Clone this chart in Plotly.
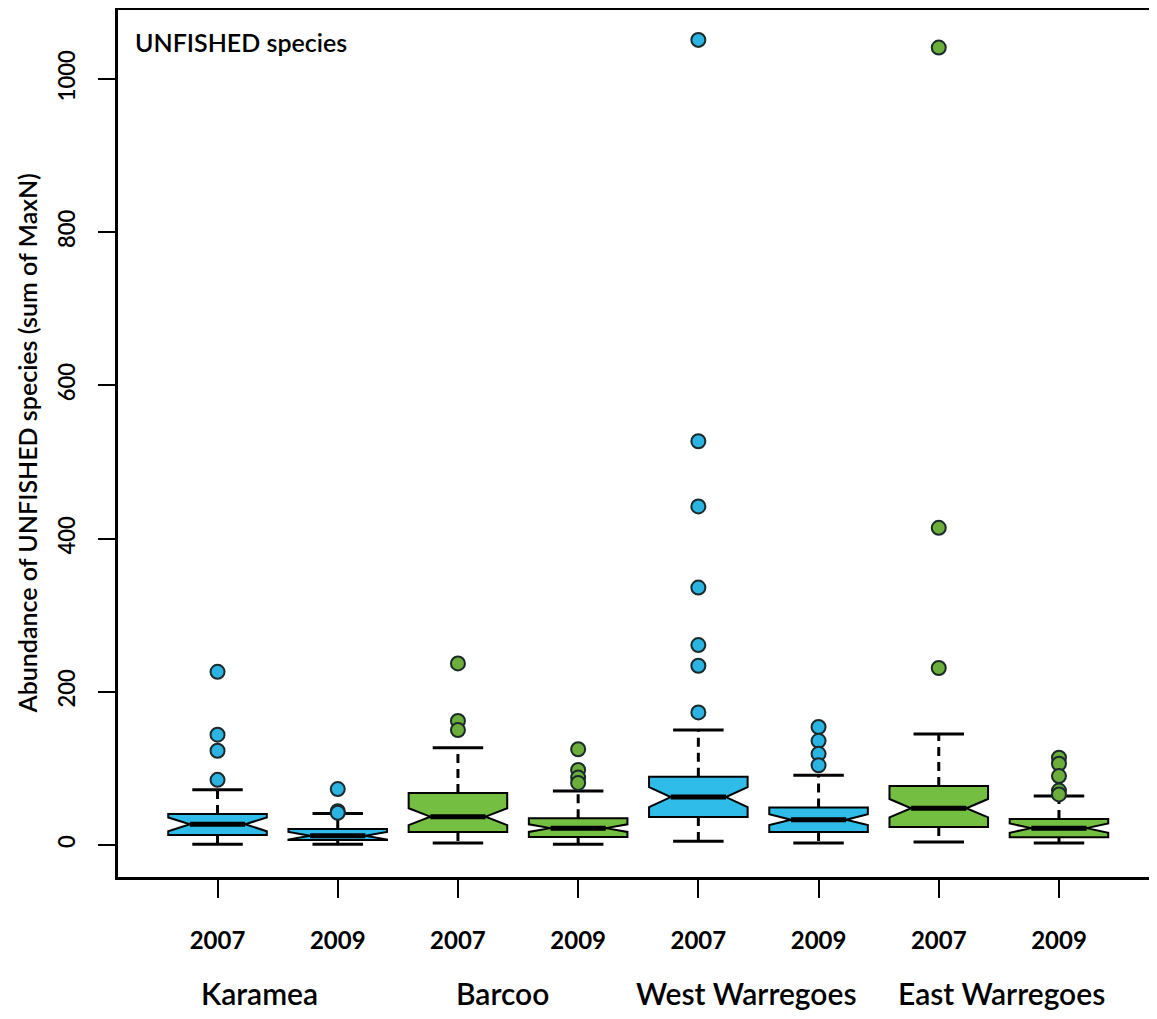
import plotly.graph_objects as go

# ---- data ----
sites = ["Karamea", "Barcoo", "West Warregoes", "East Warregoes"]
years = ["2007", "2009", "2007", "2009", "2007", "2009", "2007", "2009"]
positions = [1, 2, 3, 4, 5, 6, 7, 8]
q1 = [13, 6.5, 17, 10.5, 36.5, 17, 23.5, 10]
median = [27, 12, 37, 22, 62.5, 33, 48, 22]
q3 = [40.5, 21, 68, 35, 89, 49, 77, 34]
lower_whisker = [1, 1, 2.5, 1, 5, 2.5, 4, 2.5]
upper_whisker = [72, 41, 127, 70.5, 150, 91, 145, 64]
notch_half = [9, 5, 11, 5, 13, 7, 12, 6]
outliers = [
    [226, 144, 123, 85],
    [73, 44, 42],
    [237, 162, 150],
    [125, 98, 88, 81],
    [1051, 527, 442, 336, 261, 234, 173],
    [154, 136, 119, 104],
    [1041, 414, 231],
    [114, 106, 90, 71, 66],
]

# ---- style ----
CYAN = "#2FBCE8"
GREEN = "#74BE42"
CYAN_PT = "#2BB4E2"
GREEN_PT = "#6CAD3C"
box_colors = [CYAN, CYAN, GREEN, GREEN, CYAN, CYAN, GREEN, GREEN]
pt_colors = [CYAN_PT, CYAN_PT, GREEN_PT, GREEN_PT, CYAN_PT, CYAN_PT, GREEN_PT, GREEN_PT]
BOX_W = 0.82
NOTCH_W = 0.22
CAP_HALF = 0.21
FONT = "Lato, 'Open Sans', sans-serif"

fig = go.Figure()

for i, p in enumerate(positions):
    fig.add_trace(go.Box(
        x=[p], q1=[q1[i]], median=[median[i]], q3=[q3[i]],
        lowerfence=[lower_whisker[i]], upperfence=[upper_whisker[i]],
        notchspan=[notch_half[i]], notched=True, notchwidth=NOTCH_W,
        width=BOX_W, showwhiskers=False, boxpoints=False,
        fillcolor=box_colors[i], line=dict(color="black", width=2),
        showlegend=False, hoverinfo="skip",
    ))

# dashed whiskers
wx, wy = [], []
for i, p in enumerate(positions):
    wx += [p, p, None, p, p, None]
    wy += [q3[i], upper_whisker[i], None, q1[i], lower_whisker[i], None]
fig.add_trace(go.Scatter(x=wx, y=wy, mode="lines",
                         line=dict(color="black", width=3, dash="9px,6px"),
                         showlegend=False, hoverinfo="skip"))
# whisker caps
cx, cy = [], []
for i, p in enumerate(positions):
    cx += [p - CAP_HALF, p + CAP_HALF, None, p - CAP_HALF, p + CAP_HALF, None]
    cy += [upper_whisker[i], upper_whisker[i], None, lower_whisker[i], lower_whisker[i], None]
fig.add_trace(go.Scatter(x=cx, y=cy, mode="lines",
                         line=dict(color="black", width=3),
                         showlegend=False, hoverinfo="skip"))
# thick median lines
inner = BOX_W / 2 * (1 - 2 * NOTCH_W)
mx, my = [], []
for i, p in enumerate(positions):
    mx += [p - inner, p + inner, None]
    my += [median[i], median[i], None]
fig.add_trace(go.Scatter(x=mx, y=my, mode="lines",
                         line=dict(color="black", width=5),
                         showlegend=False, hoverinfo="skip"))
# outliers
for i, p in enumerate(positions):
    fig.add_trace(go.Scatter(
        x=[p] * len(outliers[i]), y=outliers[i], mode="markers",
        marker=dict(size=14, color=pt_colors[i], line=dict(color="#1a2a2a", width=2)),
        showlegend=False, hoverinfo="skip"))

# site labels
site_x = [1.345, 3.367, 5.397, 7.518]
for s, xs in zip(sites, site_x):
    fig.add_annotation(x=xs, y=-0.1338, xref="x", yref="paper", text=s,
                       showarrow=False,
                       font=dict(family=FONT, size=30, color="black", weight=600),
                       xanchor="center", yanchor="middle")

fig.add_annotation(x=0.0145, y=0.9635, xref="paper", yref="paper",
                   text="UNFISHED species", showarrow=False,
                   font=dict(family=FONT, size=25, color="black", weight=600),
                   xanchor="left", yanchor="middle")

fig.add_annotation(x=-0.0883, y=0.5, xref="paper", yref="paper",
                   text="Abundance of UNFISHED species (sum of MaxN)",
                   textangle=-90, showarrow=False,
                   font=dict(family=FONT, size=25, color="black", weight=600),
                   xanchor="center", yanchor="middle")

fig.update_layout(
    width=1141, height=1003,
    margin=dict(l=110, r=0, t=2, b=134),
    paper_bgcolor="white", plot_bgcolor="white",
    boxmode="overlay",
    xaxis=dict(range=[0.172, 8.749], tickvals=positions, ticktext=years,
               showgrid=False, zeroline=False, showline=True, linecolor="black",
               linewidth=3, mirror=True, ticks="outside", ticklen=18, tickwidth=2,
               tickcolor="black", ticklabelstandoff=22,
               tickfont=dict(family=FONT, size=24, color="black", weight=700)),
    yaxis=dict(range=[-41.8, 1090], tickvals=[0, 200, 400, 600, 800, 1000],
               showgrid=False, zeroline=False, showline=True, linecolor="black",
               linewidth=3, mirror=False, ticks="outside", ticklen=17, tickwidth=2,
               tickcolor="black", tickangle=-90, ticklabelstandoff=14,
               tickfont=dict(family=FONT, size=22, color="black", weight=600)),
)

fig.write_html("out.html")
